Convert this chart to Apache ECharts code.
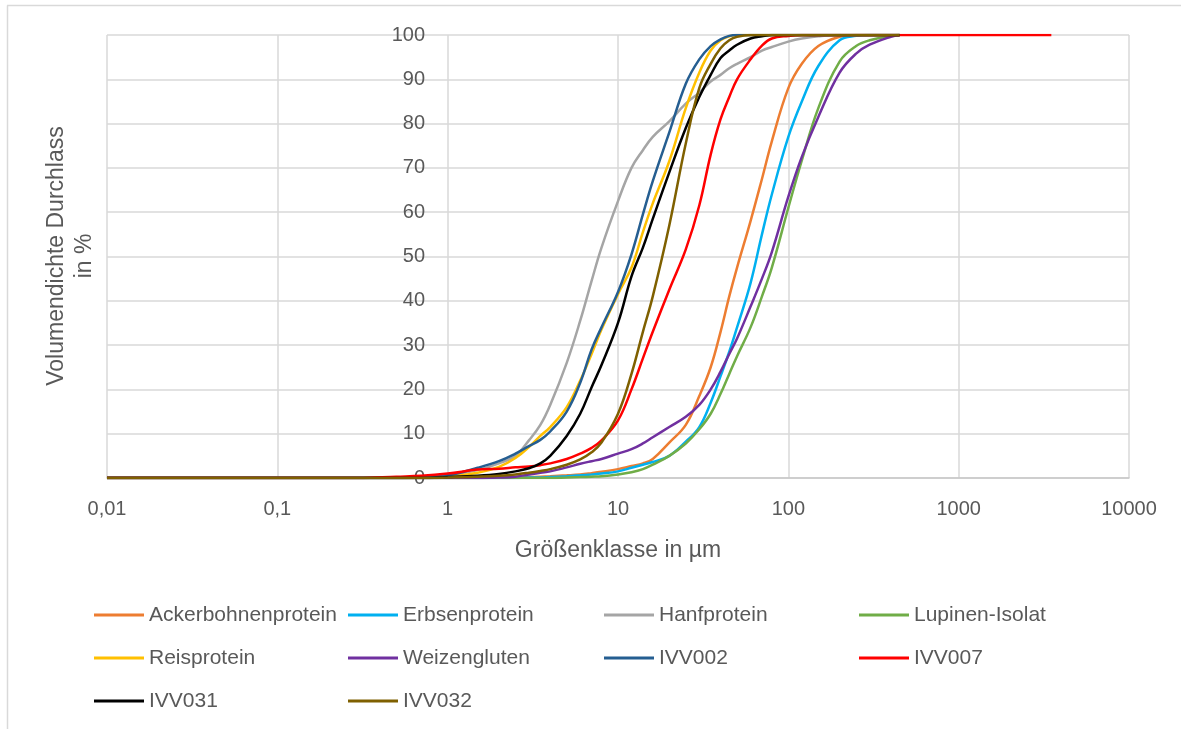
<!DOCTYPE html>
<html>
<head>
<meta charset="utf-8">
<script src="https://cdn.jsdelivr.net/npm/echarts@6/dist/echarts.min.js"></script>
<style>html,body{margin:0;padding:0;background:#fff;}#c{width:1181px;height:729px;}</style>
</head>
<body>
<div id="c"></div>
<script>
// Size classes in µm
const sizes = [0.01, 0.3, 0.5, 0.7, 1, 1.5, 2, 2.5, 3, 3.5, 4, 5, 6, 7, 8, 10, 12, 14, 16, 20, 25, 30, 35, 40, 45, 50, 60, 70, 80, 100, 120, 150, 200, 250, 300, 400, 450, 3500];

const ackerbohnen = [0, 0, 0, 0, 0, 0, 0.1, 0.1, 0.2, 0.3, 0.4, 0.6, 0.8, 1.1, 1.4, 2, 2.7, 3.3, 4.3, 8, 12, 18.5, 25, 33, 41, 47.5, 58, 67.5, 76, 88, 93.5, 97.5, 99.6, 100, 100, 100, 100, null];
const erbsen      = [0, 0, 0, 0, 0, 0, 0, 0, 0.1, 0.1, 0.2, 0.4, 0.6, 0.8, 1, 1.5, 2.3, 3, 3.6, 5, 8.2, 11.5, 17, 23, 28.5, 34, 44, 55, 64, 77, 85, 93, 98.8, 99.8, 100, 100, 100, null];
const hanf        = [0, 0, 0, 0.1, 0.6, 1.8, 3.3, 5, 8.5, 12, 16.5, 26, 35.5, 44.5, 52, 62.5, 70, 74, 77, 80.5, 84.5, 87, 89.5, 91, 92.5, 93.5, 95, 96.5, 97.3, 98.5, 99.2, 99.7, 100, 100, 100, 100, 100, null];
const lupinen     = [0, 0, 0, 0, 0, 0, 0, 0, 0, 0, 0, 0.1, 0.2, 0.3, 0.4, 0.8, 1.3, 2, 3, 5, 7.8, 11, 14.5, 19, 23.5, 27.5, 34, 41, 47.5, 61, 71.7, 83.5, 94, 97.5, 98.8, 99.8, 100, null];
const reis        = [0, 0, 0, 0.1, 0.3, 1.2, 2.5, 4.5, 7, 9.5, 11.5, 16, 22, 28, 33.5, 41.5, 47.5, 55.5, 62, 71.5, 83.5, 91.5, 96.5, 98.8, 99.7, 100, 100, 100, 100, 100, 100, 100, 100, 100, 100, 100, 100, null];
const weizen      = [0, 0, 0, 0, 0, 0, 0.1, 0.3, 0.8, 1.2, 1.5, 2.4, 3.2, 3.8, 4.3, 5.5, 6.5, 7.8, 9.2, 11.5, 13.8, 16.5, 20, 24, 28, 31.5, 38.7, 45, 51, 63.5, 72.5, 81.5, 91.5, 95.8, 97.8, 99.6, 100, null];
const ivv002      = [0, 0, 0, 0.1, 0.6, 2.3, 3.8, 5.5, 7.2, 8.6, 10.5, 15, 21.5, 29, 34, 42, 50.5, 59.5, 67, 78, 89, 94.5, 97.5, 99, 99.8, 100, 100, 100, 100, 100, 100, 100, 100, 100, 100, 100, 100, null];
const ivv007      = [0, 0, 0.3, 0.5, 1, 1.9, 2.1, 2.4, 2.6, 2.9, 3.3, 4.3, 5.5, 6.8, 8.5, 13, 20, 27, 33, 42.5, 51.6, 61.5, 73, 81, 86, 90, 94.5, 97.6, 99.2, 99.8, 100, 100, 100, 100, 100, 100, 100, 100];
const ivv031      = [0, 0, 0, 0, 0.2, 0.5, 0.9, 1.5, 2.2, 3.3, 5, 9.5, 14.5, 20.5, 25.5, 35, 45.5, 52, 58.5, 69, 79, 86, 91, 94.8, 96.5, 97.8, 99.2, 99.7, 100, 100, 100, 100, 100, 100, 100, 100, 100, null];
const ivv032      = [0, 0, 0, 0, 0.1, 0.3, 0.5, 0.8, 1.2, 1.6, 2, 3, 4.2, 5.8, 8, 14.5, 23.5, 33, 41, 57, 75.5, 88, 93.5, 97, 98.8, 99.6, 100, 100, 100, 100, 100, 100, 100, 100, 100, 100, 100, null];

const seriesNames = ['Ackerbohnenprotein', 'Erbsenprotein', 'Hanfprotein', 'Lupinen-Isolat', 'Reisprotein', 'Weizengluten', 'IVV002', 'IVV007', 'IVV031', 'IVV032'];
const seriesValues = [ackerbohnen, erbsen, hanf, lupinen, reis, weizen, ivv002, ivv007, ivv031, ivv032];
const seriesColors = ['#ED7D31', '#00B0F0', '#A5A5A5', '#70AD47', '#FFC000', '#7030A0', '#255E91', '#FF0000', '#000000', '#7F6000'];

const yTicks = [0, 10, 20, 30, 40, 50, 60, 70, 80, 90, 100];
const xTickLabels = ['0,01', '0,1', '1', '10', '100', '1000', '10000'];

const txt = '#595959';
const grid = '#D9D9D9';
const font = 'Liberation Sans, Arial, sans-serif';

const series = seriesNames.map((name, i) => ({
  name: name,
  type: 'line',
  data: sizes.map((s, j) => [s, seriesValues[i][j]]).filter(p => p[1] !== null),
  showSymbol: false,
  smooth: 0.4,
  color: seriesColors[i],
  lineStyle: { width: 2.5, color: seriesColors[i] },
  emphasis: { disabled: true },
  z: 2 + i
}));

function legendCol(left, names) {
  return {
    orient: 'vertical', left: left, top: 604, padding: 0,
    itemWidth: 50, itemHeight: 3, itemGap: 21, icon: 'rect',
    textStyle: { fontSize: 21, color: txt, lineHeight: 22, fontFamily: font },
    data: names
  };
}

const chart = echarts.init(document.getElementById('c'), null, { renderer: 'canvas' });
chart.setOption({
  animation: false,
  backgroundColor: '#fff',
  textStyle: { fontFamily: font },
  grid: { left: 107, right: 52, top: 35, bottom: 251, containLabel: false },
  xAxis: {
    type: 'log', logBase: 10, min: 0.01, max: 10000, splitNumber: 6,
    axisLine: { show: true, lineStyle: { color: '#C8C8C8', width: 1.5 } },
    axisTick: { show: false },
    splitLine: { show: true, lineStyle: { color: grid, width: 1.5 } },
    axisLabel: {
      margin: 21, color: txt, fontSize: 20, fontFamily: font,
      formatter: v => {
        const e = Math.round(Math.log10(v));
        return xTickLabels[e + 2] !== undefined ? xTickLabels[e + 2] : String(v);
      }
    },
    name: 'Größenklasse in µm', nameLocation: 'middle', nameGap: 61,
    nameTextStyle: { color: txt, fontSize: 23, fontFamily: font }
  },
  yAxis: {
    type: 'value', min: yTicks[0], max: yTicks[yTicks.length - 1], interval: 10,
    offset: -340,
    axisLine: { show: false }, axisTick: { show: false },
    splitLine: { show: true, lineStyle: { color: grid, width: 1.5 } },
    axisLabel: { margin: 22, color: txt, fontSize: 20, fontFamily: font }
  },
  legend: [
    legendCol(94, ['Ackerbohnenprotein', 'Reisprotein', 'IVV031']),
    legendCol(348, ['Erbsenprotein', 'Weizengluten', 'IVV032']),
    legendCol(604, ['Hanfprotein', 'IVV002']),
    legendCol(859, ['Lupinen-Isolat', 'IVV007'])
  ],
  graphic: [
    { type: 'line', shape: { x1: 7.5, y1: 5.5, x2: 7.5, y2: 729 }, style: { stroke: '#D9D9D9', lineWidth: 1.5 } },
    { type: 'line', shape: { x1: 7, y1: 5.5, x2: 1181, y2: 5.5 }, style: { stroke: '#D9D9D9', lineWidth: 1.5 } },
    {
      type: 'text', x: 71, y: 256, rotation: Math.PI / 2,
      style: { text: 'Volumendichte Durchlass\nin %', fill: txt, font: '23px ' + font, textAlign: 'center', textVerticalAlign: 'middle', lineHeight: 28 }
    }
  ],
  series: series
});
</script>
</body>
</html>
